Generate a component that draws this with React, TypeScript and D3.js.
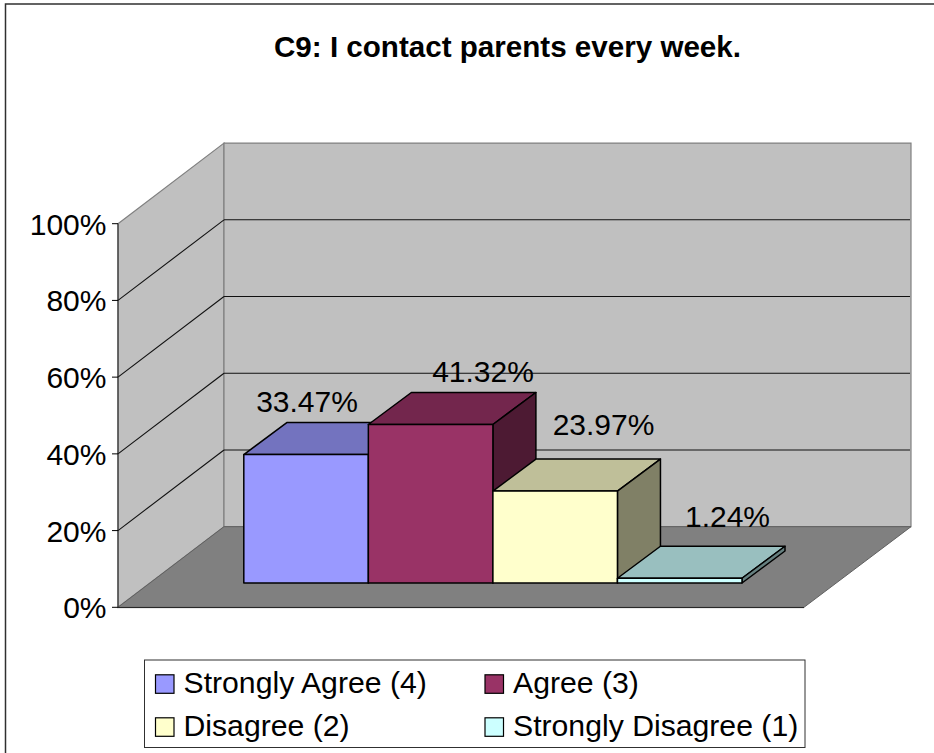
import React from "react";
import * as d3 from "d3";

const categories = ["Strongly Agree (4)", "Agree (3)", "Disagree (2)", "Strongly Disagree (1)"];
const seriesValues = [33.47, 41.32, 23.97, 1.24];
const valueLabels = ["33.47%", "41.32%", "23.97%", "1.24%"];
const frontColors = ["#9999ff", "#993366", "#ffffcc", "#ccffff"];
const topColors = ["#7373bf", "#73264d", "#bfbf99", "#99bfbf"];
const sideColors = ["#4d4d80", "#4d1a33", "#808066", "#668080"];
const yTicks = [0, 20, 40, 60, 80, 100];
const titleText = "C9: I contact parents every week.";

const W = 934, H = 753;
const axisX = 118, wallDx = 106, wallDy = -80.6;
const y = d3.scaleLinear().domain([0, 100]).range([607.3, 223.7]);
const x = d3.scaleBand<number>().domain([0, 1, 2, 3]).range([243.8, 742]).padding(0);
const barBase = 583, barDx = 43, barDy = -32;
const barH = (v: number) => y(0) - y(v);
const font = "'Liberation Sans', Arial, sans-serif";
const pts = (a: number[][]) => a.map((p) => p.join(",")).join(" ");
const labelX = [307, 483, 603.5, 727.5];
const labelY = [412, 381.8, 434.8, 526.5];

export default function App() {
  const floorRight = axisX + 686;
  return (
    <svg width={W} height={H} viewBox={`0 0 ${W} ${H}`} style={{ position: "absolute", left: 0, top: 0, background: "#fff" }}>
      <rect x={5.5} y={4} width={W + 10} height={H} fill="#fff" stroke="#303030" strokeWidth={1.5} />
      <text x={507.5} y={57} textAnchor="middle" fontFamily={font} fontWeight="bold" fontSize={29.6} textLength={467} lengthAdjust="spacingAndGlyphs" fill="#000">{titleText}</text>

      <polygon points={pts([[axisX, y(100)], [axisX + wallDx, y(100) + wallDy], [axisX + wallDx, y(0) + wallDy], [axisX, y(0)]])} fill="#c0c0c0" stroke="#808080" strokeWidth={1.2} />
      <polygon points={pts([[axisX + wallDx, y(100) + wallDy], [floorRight + wallDx + 1, y(100) + wallDy], [floorRight + wallDx + 1, y(0) + wallDy], [axisX + wallDx, y(0) + wallDy]])} fill="#c0c0c0" stroke="#808080" strokeWidth={1.2} />
      <polygon points={pts([[axisX, y(0)], [axisX + wallDx, y(0) + wallDy], [floorRight + wallDx + 1, y(0) + wallDy], [floorRight, y(0)]])} fill="#808080" stroke="#606060" strokeWidth={1} />

      {yTicks.filter((t) => t > 0 && t < 100).map((t) => (
        <g key={t} fill="none" stroke="#101010" strokeWidth={1.1}>
          <line x1={axisX} y1={y(t)} x2={axisX + wallDx} y2={y(t) + wallDy} />
          <line x1={axisX + wallDx} y1={y(t) + wallDy} x2={floorRight + wallDx} y2={y(t) + wallDy} />
        </g>
      ))}

      <line x1={axisX} y1={y(100)} x2={axisX} y2={y(0)} stroke="#202020" strokeWidth={1} />
      <line x1={axisX} y1={y(0) + 0.3} x2={floorRight} y2={y(0) + 0.3} stroke="#202020" strokeWidth={1} />
      {yTicks.map((t) => (
        <g key={t}>
          <line x1={axisX - 6} y1={y(t)} x2={axisX} y2={y(t)} stroke="#000" strokeWidth={1} />
          <text x={106.5} y={y(t) + 11} textAnchor="end" fontFamily={font} fontSize={30} fill="#000">{t}%</text>
        </g>
      ))}

      {seriesValues.map((v, i) => {
        const x0 = x(i)!, x1 = x0 + x.bandwidth();
        const top = barBase - barH(v);
        return (
          <g key={i} stroke="#000" strokeWidth={1.5} strokeLinejoin="round">
            <polygon points={pts([[x0, top], [x0 + barDx, top + barDy], [x1 + barDx, top + barDy], [x1, top]])} fill={topColors[i]} />
            <polygon points={pts([[x1, top], [x1 + barDx, top + barDy], [x1 + barDx, barBase + barDy], [x1, barBase]])} fill={sideColors[i]} />
            <rect x={x0} y={top} width={x.bandwidth()} height={barH(v)} fill={frontColors[i]} />
          </g>
        );
      })}

      {valueLabels.map((l, i) => (
        <text key={l} x={labelX[i]} y={labelY[i]} textAnchor="middle" fontFamily={font} fontSize={30} fill="#000">{l}</text>
      ))}

      <rect x={144.5} y={660} width={660.5} height={87.5} fill="#fff" stroke="#303030" strokeWidth={1} />
      {categories.map((c, i) => {
        const sx = i % 2 === 0 ? 155.5 : 485;
        const ly = i < 2 ? 693 : 736;
        return (
          <g key={c}>
            <rect x={sx} y={ly - 18.2} width={18.5} height={18.5} fill={frontColors[i]} stroke="#000" strokeWidth={1.2} />
            <text x={sx + 28} y={ly} fontFamily={font} fontSize={30.2} fill="#000">{c}</text>
          </g>
        );
      })}
    </svg>
  );
}
